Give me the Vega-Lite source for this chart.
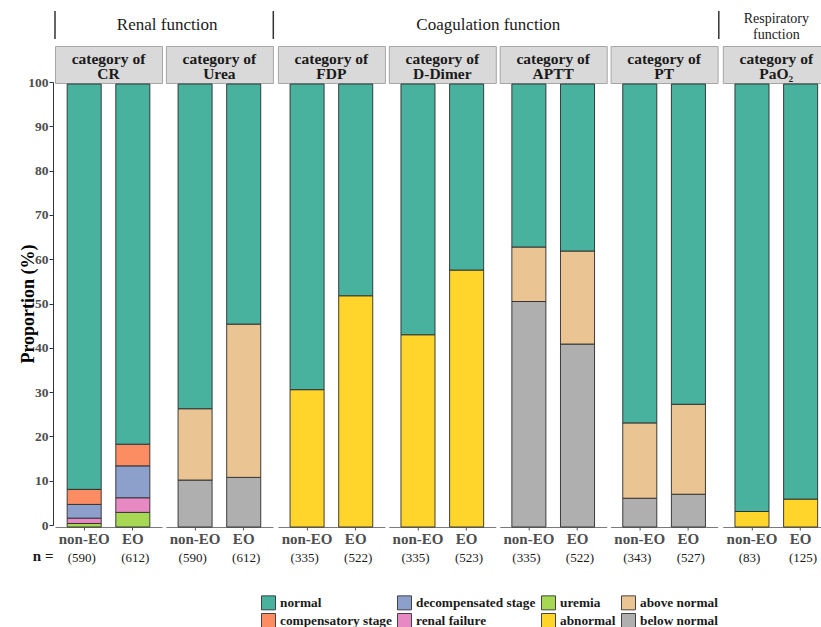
{
  "$schema": "https://vega.github.io/schema/vega-lite/v6.json",
  "background": "white",
  "padding": {"left": 19, "top": 10, "right": 0, "bottom": 0},
  "datasets": {
    "shares": [
      {"panel": "CR", "group": "non-EO", "category": "uremia", "pct": 0.8},
      {"panel": "CR", "group": "non-EO", "category": "renal failure", "pct": 1.2},
      {"panel": "CR", "group": "non-EO", "category": "decompensated stage", "pct": 3.1},
      {"panel": "CR", "group": "non-EO", "category": "compensatory stage", "pct": 3.4},
      {"panel": "CR", "group": "non-EO", "category": "normal", "pct": 91.5},
      {"panel": "CR", "group": "EO", "category": "uremia", "pct": 3.3},
      {"panel": "CR", "group": "EO", "category": "renal failure", "pct": 3.3},
      {"panel": "CR", "group": "EO", "category": "decompensated stage", "pct": 7.2},
      {"panel": "CR", "group": "EO", "category": "compensatory stage", "pct": 4.9},
      {"panel": "CR", "group": "EO", "category": "normal", "pct": 81.3},
      {"panel": "Urea", "group": "non-EO", "category": "below normal", "pct": 10.6},
      {"panel": "Urea", "group": "non-EO", "category": "above normal", "pct": 16.1},
      {"panel": "Urea", "group": "non-EO", "category": "normal", "pct": 73.3},
      {"panel": "Urea", "group": "EO", "category": "below normal", "pct": 11.2},
      {"panel": "Urea", "group": "EO", "category": "above normal", "pct": 34.6},
      {"panel": "Urea", "group": "EO", "category": "normal", "pct": 54.2},
      {"panel": "FDP", "group": "non-EO", "category": "abnormal", "pct": 31.0},
      {"panel": "FDP", "group": "non-EO", "category": "normal", "pct": 69.0},
      {"panel": "FDP", "group": "EO", "category": "abnormal", "pct": 52.2},
      {"panel": "FDP", "group": "EO", "category": "normal", "pct": 47.8},
      {"panel": "D-Dimer", "group": "non-EO", "category": "abnormal", "pct": 43.4},
      {"panel": "D-Dimer", "group": "non-EO", "category": "normal", "pct": 56.6},
      {"panel": "D-Dimer", "group": "EO", "category": "abnormal", "pct": 58.0},
      {"panel": "D-Dimer", "group": "EO", "category": "normal", "pct": 42.0},
      {"panel": "APTT", "group": "non-EO", "category": "below normal", "pct": 50.9},
      {"panel": "APTT", "group": "non-EO", "category": "above normal", "pct": 12.3},
      {"panel": "APTT", "group": "non-EO", "category": "normal", "pct": 36.8},
      {"panel": "APTT", "group": "EO", "category": "below normal", "pct": 41.3},
      {"panel": "APTT", "group": "EO", "category": "above normal", "pct": 21.0},
      {"panel": "APTT", "group": "EO", "category": "normal", "pct": 37.7},
      {"panel": "PT", "group": "non-EO", "category": "below normal", "pct": 6.5},
      {"panel": "PT", "group": "non-EO", "category": "above normal", "pct": 17.0},
      {"panel": "PT", "group": "non-EO", "category": "normal", "pct": 76.5},
      {"panel": "PT", "group": "EO", "category": "below normal", "pct": 7.4},
      {"panel": "PT", "group": "EO", "category": "above normal", "pct": 20.3},
      {"panel": "PT", "group": "EO", "category": "normal", "pct": 72.3},
      {"panel": "PaO2", "group": "non-EO", "category": "abnormal", "pct": 3.5},
      {"panel": "PaO2", "group": "non-EO", "category": "normal", "pct": 96.5},
      {"panel": "PaO2", "group": "EO", "category": "abnormal", "pct": 6.3},
      {"panel": "PaO2", "group": "EO", "category": "normal", "pct": 93.7}
    ],
    "counts": [
      {"panel": "CR", "group": "non-EO", "n": 590},
      {"panel": "CR", "group": "EO", "n": 612},
      {"panel": "Urea", "group": "non-EO", "n": 590},
      {"panel": "Urea", "group": "EO", "n": 612},
      {"panel": "FDP", "group": "non-EO", "n": 335},
      {"panel": "FDP", "group": "EO", "n": 522},
      {"panel": "D-Dimer", "group": "non-EO", "n": 335},
      {"panel": "D-Dimer", "group": "EO", "n": 523},
      {"panel": "APTT", "group": "non-EO", "n": 335},
      {"panel": "APTT", "group": "EO", "n": 522},
      {"panel": "PT", "group": "non-EO", "n": 343},
      {"panel": "PT", "group": "EO", "n": 527},
      {"panel": "PaO2", "group": "non-EO", "n": 83},
      {"panel": "PaO2", "group": "EO", "n": 125}
    ],
    "strips": [
      {"panel": "CR", "label": "category of\nCR"},
      {"panel": "Urea", "label": "category of\nUrea"},
      {"panel": "FDP", "label": "category of\nFDP"},
      {"panel": "D-Dimer", "label": "category of\nD-Dimer"},
      {"panel": "APTT", "label": "category of\nAPTT"},
      {"panel": "PT", "label": "category of\nPT"},
      {"panel": "PaO2", "label": "category of\nPaO₂"}
    ],
    "levels": [
      {"category": "uremia", "level": 1},
      {"category": "renal failure", "level": 2},
      {"category": "decompensated stage", "level": 3},
      {"category": "compensatory stage", "level": 4},
      {"category": "below normal", "level": 5},
      {"category": "above normal", "level": 6},
      {"category": "abnormal", "level": 7},
      {"category": "normal", "level": 8}
    ]
  },
  "spacing": 0,
  "hconcat": [
    {
      "spacing": 0,
      "vconcat": [
        {"width": 1, "height": 64, "data": {"values": []}, "mark": "point", "encoding": {}},
        {
          "width": 1, "height": 443,
          "data": {"values": []},
          "mark": "point",
          "encoding": {
            "y": {"field": "pct", "type": "quantitative", "scale": {"domain": [0, 100]},
                  "axis": {"title": "Proportion (%)", "values": [0, 10, 20, 30, 40, 50, 60, 70, 80, 90, 100]}},
            "x": {"field": "pct", "type": "quantitative", "scale": {"domain": [0, 1]},
                  "axis": {"title": "n =", "labels": false, "ticks": false, "domain": false,
                           "titleAnchor": "start", "titleAlign": "right", "titlePadding": 23,
                           "titleFontSize": 15, "titleFontWeight": "bold", "titleColor": "#1a1a1a"}}
          }
        }
      ]
    },
    {
      "spacing": 1.9,
      "hconcat": [
        {
          "spacing": 7, "bounds": "flush",
          "vconcat": [
            {
              "width": 218.3, "height": 28,
              "layer": [
                {"data": {"values": [{"edge": 0}, {"edge": 1}]},
                 "mark": {"type": "rule", "color": "#333333", "strokeWidth": 1.5},
                 "encoding": {"x": {"field": "edge", "type": "quantitative", "scale": {"domain": [0, 1]}, "axis": null}}},
                {"data": {"values": [{"title": "Renal function"}]},
                 "mark": {"type": "text", "fontSize": 17, "color": "#1a1a1a", "dx": 3},
                 "encoding": {"text": {"field": "title"}}}
              ]
            },
            {
              "spacing": 1.9,
              "hconcat": [
                {"spacing": 1, "bounds": "flush", "vconcat": [
                  {"width": 107, "height": 37, "data": {"name": "strips"}, "transform": [{"filter": "datum.panel === 'CR'"}],
                   "view": {"fill": "#d9d9d9", "stroke": "#a6a6a6"}, "mark": {"type": "text", "fontSize": 15.5, "fontWeight": "bold", "lineBreak": "\n", "lineHeight": 15.5, "dy": -6, "color": "#1a1a1a"},
                   "encoding": {"text": {"field": "label"}}},
                  {"width": 107, "height": 443, "data": {"name": "shares"},
                   "transform": [{"filter": "datum.panel === 'CR'"}, {"lookup": "category", "from": {"data": {"name": "levels"}, "key": "category", "fields": ["level"]}}],
                   "mark": "bar",
                   "encoding": {
                     "x": {"field": "group", "type": "nominal", "sort": ["non-EO", "EO"], "title": null, "scale": {"paddingInner": 0.3, "paddingOuter": 0.25}},
                     "y": {"field": "pct", "type": "quantitative", "stack": "zero", "scale": {"domain": [0, 100]}, "axis": null},
                     "color": {"field": "category", "type": "nominal", "title": null, "legend": {"rowPadding": -1},
                               "scale": {"domain": ["normal", "compensatory stage", "decompensated stage", "renal failure", "uremia", "abnormal", "above normal", "below normal"],
                                         "range": ["#48b29e", "#fc8d62", "#8da0cb", "#e78ac3", "#a6d854", "#ffd52b", "#ebc493", "#afafaf"]}},
                     "order": {"field": "level", "type": "quantitative", "sort": "ascending"}
                   }},
                  {"width": 107, "height": 60, "data": {"name": "counts"},
                   "transform": [{"filter": "datum.panel === 'CR'"}, {"calculate": "'(' + datum.n + ')'", "as": "n_label"}],
                   "mark": {"type": "text", "fontSize": 13, "color": "#1a1a1a"},
                   "encoding": {"x": {"field": "group", "type": "nominal", "sort": ["non-EO", "EO"], "scale": {"paddingInner": 0.3, "paddingOuter": 0.25}, "axis": null},
                                "text": {"field": "n_label"}}}
                ]},
                {"spacing": 1, "bounds": "flush", "vconcat": [
                  {"width": 107, "height": 37, "data": {"name": "strips"}, "transform": [{"filter": "datum.panel === 'Urea'"}],
                   "view": {"fill": "#d9d9d9", "stroke": "#a6a6a6"}, "mark": {"type": "text", "fontSize": 15.5, "fontWeight": "bold", "lineBreak": "\n", "lineHeight": 15.5, "dy": -6, "color": "#1a1a1a"},
                   "encoding": {"text": {"field": "label"}}},
                  {"width": 107, "height": 443, "data": {"name": "shares"},
                   "transform": [{"filter": "datum.panel === 'Urea'"}, {"lookup": "category", "from": {"data": {"name": "levels"}, "key": "category", "fields": ["level"]}}],
                   "mark": "bar",
                   "encoding": {
                     "x": {"field": "group", "type": "nominal", "sort": ["non-EO", "EO"], "title": null, "scale": {"paddingInner": 0.3, "paddingOuter": 0.25}},
                     "y": {"field": "pct", "type": "quantitative", "stack": "zero", "scale": {"domain": [0, 100]}, "axis": null},
                     "color": {"field": "category", "type": "nominal", "title": null, "legend": {"rowPadding": -1},
                               "scale": {"domain": ["normal", "compensatory stage", "decompensated stage", "renal failure", "uremia", "abnormal", "above normal", "below normal"],
                                         "range": ["#48b29e", "#fc8d62", "#8da0cb", "#e78ac3", "#a6d854", "#ffd52b", "#ebc493", "#afafaf"]}},
                     "order": {"field": "level", "type": "quantitative", "sort": "ascending"}
                   }},
                  {"width": 107, "height": 60, "data": {"name": "counts"},
                   "transform": [{"filter": "datum.panel === 'Urea'"}, {"calculate": "'(' + datum.n + ')'", "as": "n_label"}],
                   "mark": {"type": "text", "fontSize": 13, "color": "#1a1a1a"},
                   "encoding": {"x": {"field": "group", "type": "nominal", "sort": ["non-EO", "EO"], "scale": {"paddingInner": 0.3, "paddingOuter": 0.25}, "axis": null},
                                "text": {"field": "n_label"}}}
                ]}
              ]
            }
          ]
        },
        {
          "spacing": 7, "bounds": "flush",
          "vconcat": [
            {
              "width": 440.9, "height": 28,
              "layer": [
                {"data": {"values": [{"edge": 1}]},
                 "mark": {"type": "rule", "color": "#333333", "strokeWidth": 1.5},
                 "encoding": {"x": {"field": "edge", "type": "quantitative", "scale": {"domain": [0, 1]}, "axis": null}}},
                {"data": {"values": [{"title": "Coagulation function"}]},
                 "mark": {"type": "text", "fontSize": 17, "color": "#1a1a1a", "dx": -10},
                 "encoding": {"text": {"field": "title"}}}
              ]
            },
            {
              "spacing": 1.9,
              "hconcat": [
                {"spacing": 1, "bounds": "flush", "vconcat": [
                  {"width": 107, "height": 37, "data": {"name": "strips"}, "transform": [{"filter": "datum.panel === 'FDP'"}],
                   "view": {"fill": "#d9d9d9", "stroke": "#a6a6a6"}, "mark": {"type": "text", "fontSize": 15.5, "fontWeight": "bold", "lineBreak": "\n", "lineHeight": 15.5, "dy": -6, "color": "#1a1a1a"},
                   "encoding": {"text": {"field": "label"}}},
                  {"width": 107, "height": 443, "data": {"name": "shares"},
                   "transform": [{"filter": "datum.panel === 'FDP'"}, {"lookup": "category", "from": {"data": {"name": "levels"}, "key": "category", "fields": ["level"]}}],
                   "mark": "bar",
                   "encoding": {
                     "x": {"field": "group", "type": "nominal", "sort": ["non-EO", "EO"], "title": null, "scale": {"paddingInner": 0.3, "paddingOuter": 0.25}},
                     "y": {"field": "pct", "type": "quantitative", "stack": "zero", "scale": {"domain": [0, 100]}, "axis": null},
                     "color": {"field": "category", "type": "nominal", "title": null, "legend": {"rowPadding": -1},
                               "scale": {"domain": ["normal", "compensatory stage", "decompensated stage", "renal failure", "uremia", "abnormal", "above normal", "below normal"],
                                         "range": ["#48b29e", "#fc8d62", "#8da0cb", "#e78ac3", "#a6d854", "#ffd52b", "#ebc493", "#afafaf"]}},
                     "order": {"field": "level", "type": "quantitative", "sort": "ascending"}
                   }},
                  {"width": 107, "height": 60, "data": {"name": "counts"},
                   "transform": [{"filter": "datum.panel === 'FDP'"}, {"calculate": "'(' + datum.n + ')'", "as": "n_label"}],
                   "mark": {"type": "text", "fontSize": 13, "color": "#1a1a1a"},
                   "encoding": {"x": {"field": "group", "type": "nominal", "sort": ["non-EO", "EO"], "scale": {"paddingInner": 0.3, "paddingOuter": 0.25}, "axis": null},
                                "text": {"field": "n_label"}}}
                ]},
                {"spacing": 1, "bounds": "flush", "vconcat": [
                  {"width": 107, "height": 37, "data": {"name": "strips"}, "transform": [{"filter": "datum.panel === 'D-Dimer'"}],
                   "view": {"fill": "#d9d9d9", "stroke": "#a6a6a6"}, "mark": {"type": "text", "fontSize": 15.5, "fontWeight": "bold", "lineBreak": "\n", "lineHeight": 15.5, "dy": -6, "color": "#1a1a1a"},
                   "encoding": {"text": {"field": "label"}}},
                  {"width": 107, "height": 443, "data": {"name": "shares"},
                   "transform": [{"filter": "datum.panel === 'D-Dimer'"}, {"lookup": "category", "from": {"data": {"name": "levels"}, "key": "category", "fields": ["level"]}}],
                   "mark": "bar",
                   "encoding": {
                     "x": {"field": "group", "type": "nominal", "sort": ["non-EO", "EO"], "title": null, "scale": {"paddingInner": 0.3, "paddingOuter": 0.25}},
                     "y": {"field": "pct", "type": "quantitative", "stack": "zero", "scale": {"domain": [0, 100]}, "axis": null},
                     "color": {"field": "category", "type": "nominal", "title": null, "legend": {"rowPadding": -1},
                               "scale": {"domain": ["normal", "compensatory stage", "decompensated stage", "renal failure", "uremia", "abnormal", "above normal", "below normal"],
                                         "range": ["#48b29e", "#fc8d62", "#8da0cb", "#e78ac3", "#a6d854", "#ffd52b", "#ebc493", "#afafaf"]}},
                     "order": {"field": "level", "type": "quantitative", "sort": "ascending"}
                   }},
                  {"width": 107, "height": 60, "data": {"name": "counts"},
                   "transform": [{"filter": "datum.panel === 'D-Dimer'"}, {"calculate": "'(' + datum.n + ')'", "as": "n_label"}],
                   "mark": {"type": "text", "fontSize": 13, "color": "#1a1a1a"},
                   "encoding": {"x": {"field": "group", "type": "nominal", "sort": ["non-EO", "EO"], "scale": {"paddingInner": 0.3, "paddingOuter": 0.25}, "axis": null},
                                "text": {"field": "n_label"}}}
                ]},
                {"spacing": 1, "bounds": "flush", "vconcat": [
                  {"width": 107, "height": 37, "data": {"name": "strips"}, "transform": [{"filter": "datum.panel === 'APTT'"}],
                   "view": {"fill": "#d9d9d9", "stroke": "#a6a6a6"}, "mark": {"type": "text", "fontSize": 15.5, "fontWeight": "bold", "lineBreak": "\n", "lineHeight": 15.5, "dy": -6, "color": "#1a1a1a"},
                   "encoding": {"text": {"field": "label"}}},
                  {"width": 107, "height": 443, "data": {"name": "shares"},
                   "transform": [{"filter": "datum.panel === 'APTT'"}, {"lookup": "category", "from": {"data": {"name": "levels"}, "key": "category", "fields": ["level"]}}],
                   "mark": "bar",
                   "encoding": {
                     "x": {"field": "group", "type": "nominal", "sort": ["non-EO", "EO"], "title": null, "scale": {"paddingInner": 0.3, "paddingOuter": 0.25}},
                     "y": {"field": "pct", "type": "quantitative", "stack": "zero", "scale": {"domain": [0, 100]}, "axis": null},
                     "color": {"field": "category", "type": "nominal", "title": null, "legend": {"rowPadding": -1},
                               "scale": {"domain": ["normal", "compensatory stage", "decompensated stage", "renal failure", "uremia", "abnormal", "above normal", "below normal"],
                                         "range": ["#48b29e", "#fc8d62", "#8da0cb", "#e78ac3", "#a6d854", "#ffd52b", "#ebc493", "#afafaf"]}},
                     "order": {"field": "level", "type": "quantitative", "sort": "ascending"}
                   }},
                  {"width": 107, "height": 60, "data": {"name": "counts"},
                   "transform": [{"filter": "datum.panel === 'APTT'"}, {"calculate": "'(' + datum.n + ')'", "as": "n_label"}],
                   "mark": {"type": "text", "fontSize": 13, "color": "#1a1a1a"},
                   "encoding": {"x": {"field": "group", "type": "nominal", "sort": ["non-EO", "EO"], "scale": {"paddingInner": 0.3, "paddingOuter": 0.25}, "axis": null},
                                "text": {"field": "n_label"}}}
                ]},
                {"spacing": 1, "bounds": "flush", "vconcat": [
                  {"width": 107, "height": 37, "data": {"name": "strips"}, "transform": [{"filter": "datum.panel === 'PT'"}],
                   "view": {"fill": "#d9d9d9", "stroke": "#a6a6a6"}, "mark": {"type": "text", "fontSize": 15.5, "fontWeight": "bold", "lineBreak": "\n", "lineHeight": 15.5, "dy": -6, "color": "#1a1a1a"},
                   "encoding": {"text": {"field": "label"}}},
                  {"width": 107, "height": 443, "data": {"name": "shares"},
                   "transform": [{"filter": "datum.panel === 'PT'"}, {"lookup": "category", "from": {"data": {"name": "levels"}, "key": "category", "fields": ["level"]}}],
                   "mark": "bar",
                   "encoding": {
                     "x": {"field": "group", "type": "nominal", "sort": ["non-EO", "EO"], "title": null, "scale": {"paddingInner": 0.3, "paddingOuter": 0.25}},
                     "y": {"field": "pct", "type": "quantitative", "stack": "zero", "scale": {"domain": [0, 100]}, "axis": null},
                     "color": {"field": "category", "type": "nominal", "title": null, "legend": {"rowPadding": -1},
                               "scale": {"domain": ["normal", "compensatory stage", "decompensated stage", "renal failure", "uremia", "abnormal", "above normal", "below normal"],
                                         "range": ["#48b29e", "#fc8d62", "#8da0cb", "#e78ac3", "#a6d854", "#ffd52b", "#ebc493", "#afafaf"]}},
                     "order": {"field": "level", "type": "quantitative", "sort": "ascending"}
                   }},
                  {"width": 107, "height": 60, "data": {"name": "counts"},
                   "transform": [{"filter": "datum.panel === 'PT'"}, {"calculate": "'(' + datum.n + ')'", "as": "n_label"}],
                   "mark": {"type": "text", "fontSize": 13, "color": "#1a1a1a"},
                   "encoding": {"x": {"field": "group", "type": "nominal", "sort": ["non-EO", "EO"], "scale": {"paddingInner": 0.3, "paddingOuter": 0.25}, "axis": null},
                                "text": {"field": "n_label"}}}
                ]}
              ]
            }
          ]
        },
        {
          "spacing": 7, "bounds": "flush",
          "vconcat": [
            {
              "width": 107, "height": 28,
              "data": {"values": [{"title": "Respiratory\nfunction"}]},
              "mark": {"type": "text", "fontSize": 14, "color": "#1a1a1a", "lineBreak": "\n", "lineHeight": 16, "dy": -6},
              "encoding": {"text": {"field": "title"}}
            },
            {"spacing": 1, "bounds": "flush", "vconcat": [
              {"width": 107, "height": 37, "data": {"name": "strips"}, "transform": [{"filter": "datum.panel === 'PaO2'"}],
               "view": {"fill": "#d9d9d9", "stroke": "#a6a6a6"}, "mark": {"type": "text", "fontSize": 15.5, "fontWeight": "bold", "lineBreak": "\n", "lineHeight": 15.5, "dy": -6, "color": "#1a1a1a"},
               "encoding": {"text": {"field": "label"}}},
              {"width": 107, "height": 443, "data": {"name": "shares"},
               "transform": [{"filter": "datum.panel === 'PaO2'"}, {"lookup": "category", "from": {"data": {"name": "levels"}, "key": "category", "fields": ["level"]}}],
               "mark": "bar",
               "encoding": {
                 "x": {"field": "group", "type": "nominal", "sort": ["non-EO", "EO"], "title": null, "scale": {"paddingInner": 0.3, "paddingOuter": 0.25}},
                 "y": {"field": "pct", "type": "quantitative", "stack": "zero", "scale": {"domain": [0, 100]}, "axis": null},
                 "color": {"field": "category", "type": "nominal", "title": null, "legend": {"rowPadding": -1},
                           "scale": {"domain": ["normal", "compensatory stage", "decompensated stage", "renal failure", "uremia", "abnormal", "above normal", "below normal"],
                                     "range": ["#48b29e", "#fc8d62", "#8da0cb", "#e78ac3", "#a6d854", "#ffd52b", "#ebc493", "#afafaf"]}},
                 "order": {"field": "level", "type": "quantitative", "sort": "ascending"}
               }},
              {"width": 107, "height": 60, "data": {"name": "counts"},
               "transform": [{"filter": "datum.panel === 'PaO2'"}, {"calculate": "'(' + datum.n + ')'", "as": "n_label"}],
               "mark": {"type": "text", "fontSize": 13, "color": "#1a1a1a"},
               "encoding": {"x": {"field": "group", "type": "nominal", "sort": ["non-EO", "EO"], "scale": {"paddingInner": 0.3, "paddingOuter": 0.25}, "axis": null},
                            "text": {"field": "n_label"}}}
            ]}
          ]
        }
      ]
    }
  ],
  "config": {
    "font": "Liberation Serif",
    "view": {"stroke": null},
    "bar": {"stroke": "#2b2b2b", "strokeWidth": 0.9},
    "axis": {"grid": false},
    "axisX": {"labelFontSize": 15, "labelFontWeight": "bold", "labelColor": "#4d4d4d", "labelAngle": 0,
              "domainColor": "#7a7a7a", "tickColor": "#555555", "tickSize": 3, "labelPadding": 1},
    "axisY": {"labelFontSize": 13.5, "labelFontWeight": "bold", "labelColor": "#4d4d4d", "labelPadding": 1,
              "domainColor": "#333333", "tickColor": "#333333", "tickSize": 4,
              "titleFontSize": 18, "titleFontWeight": "bold", "titleColor": "#000000", "titlePadding": -10},
    "legend": {"orient": "none", "legendX": 208, "legendY": 584, "columns": 4, "padding": 0,
               "symbolType": "square", "symbolSize": 196, "symbolStrokeColor": "#333333", "symbolStrokeWidth": 1, "symbolOpacity": 1,
               "labelFontSize": 13.3, "labelFontWeight": "bold", "labelColor": "#1a1a1a", "labelOffset": 4,
               "columnPadding": 3, "rowPadding": -1}
  }
}
